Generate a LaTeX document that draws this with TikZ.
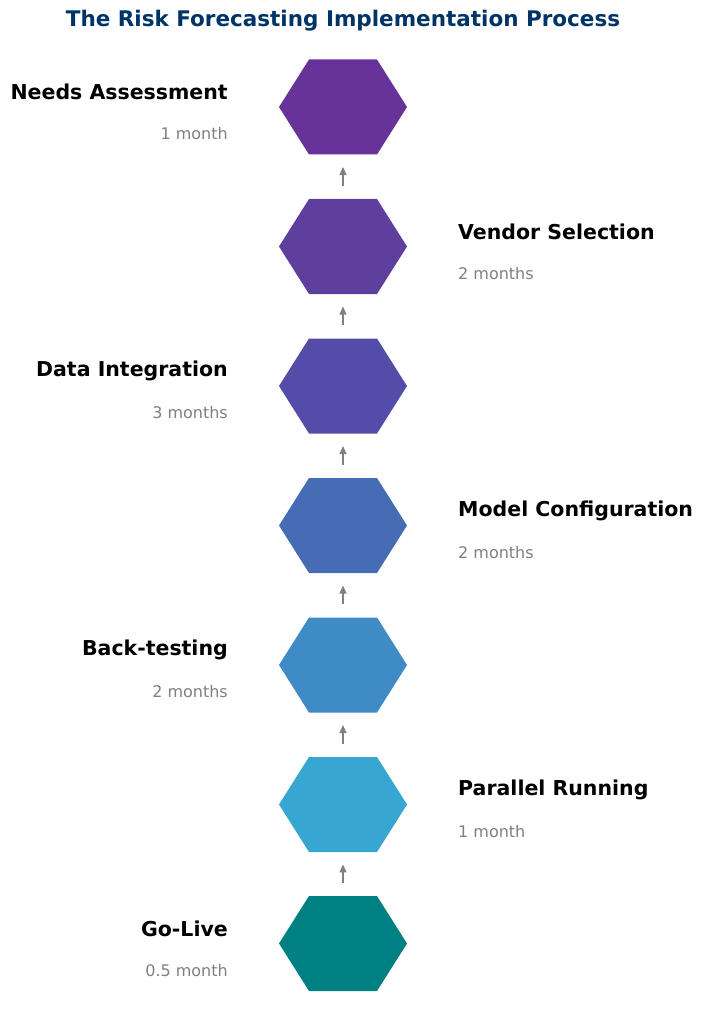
\documentclass[tikz,border=0pt]{standalone}
\usepackage{fontspec}
\setmainfont{DejaVu Sans}
\usetikzlibrary{arrows.meta}
\definecolor{c1}{HTML}{673399}
\definecolor{c2}{HTML}{5E3F9E}
\definecolor{c3}{HTML}{534DA9}
\definecolor{c4}{HTML}{476CB6}
\definecolor{c5}{HTML}{3F8BC5}
\definecolor{c6}{HTML}{37A7D2}
\definecolor{c7}{HTML}{008080}
\definecolor{ttl}{HTML}{003366}
\tikzset{
 x=1pt,y=-1pt,
 lbl/.style={font=\fontsize{20.5}{24}\selectfont\bfseries,text=black,inner sep=0},
 sub/.style={font=\fontsize{16}{19}\selectfont,text=gray,inner sep=0},
 arr/.style={-{Triangle[width=7pt,length=8pt]},draw=gray,line width=1.2pt,shorten <=0pt},
}
\newcommand{\hexat}[3]{%
 \fill[#2] (279,#1) -- (309,#1-47.5) -- (377,#1-47.5) -- (407,#1) -- (377,#1+47.5) -- (309,#1+47.5) -- cycle;
 \node[inner sep=0,minimum width=128pt,minimum height=95pt] (#3) at (343,#1) {};}
\begin{document}
\begin{tikzpicture}
\useasboundingbox (0,0) rectangle (704,1024);
\node[font=\fontsize{21.5}{26}\selectfont\bfseries,text=ttl,inner sep=0] (title) at (343,21) {The Risk Forecasting Implementation Process};
\hexat{107}{c1}{h1}
\hexat{246.5}{c2}{h2}
\hexat{386}{c3}{h3}
\hexat{525.5}{c4}{h4}
\hexat{665}{c5}{h5}
\hexat{804.5}{c6}{h6}
\hexat{943.5}{c7}{h7}
\foreach \a/\b in {h2/h1,h3/h2,h4/h3,h5/h4,h6/h5,h7/h6}{
 \path (\a.north) -- (\b.south) coordinate[pos=0.3] (s\a) coordinate[pos=0.72] (e\a);
 \draw[arr] (s\a) -- (e\a);
}
\node[lbl,anchor=east] (l1) at (228,92) {Needs Assessment};
\node[sub,anchor=east] (s1) at (228,134) {1 month};
\node[lbl,anchor=west] (l2) at (458,231.5) {Vendor Selection};
\node[sub,anchor=west] (s2) at (458,273.5) {2 months};
\node[lbl,anchor=east] (l3) at (228,371) {Data Integration};
\node[sub,anchor=east] (s3) at (228,413) {3 months};
\node[lbl,anchor=west] (l4) at (458,510.5) {Model Configuration};
\node[sub,anchor=west] (s4) at (458,552.5) {2 months};
\node[lbl,anchor=east] (l5) at (228,650) {Back-testing};
\node[sub,anchor=east] (s5) at (228,692) {2 months};
\node[lbl,anchor=west] (l6) at (458,789.5) {Parallel Running};
\node[sub,anchor=west] (s6) at (458,831.5) {1 month};
\node[lbl,anchor=east] (l7) at (228,929) {Go-Live};
\node[sub,anchor=east] (s7) at (228,971) {0.5 month};
\end{tikzpicture}
\end{document}
